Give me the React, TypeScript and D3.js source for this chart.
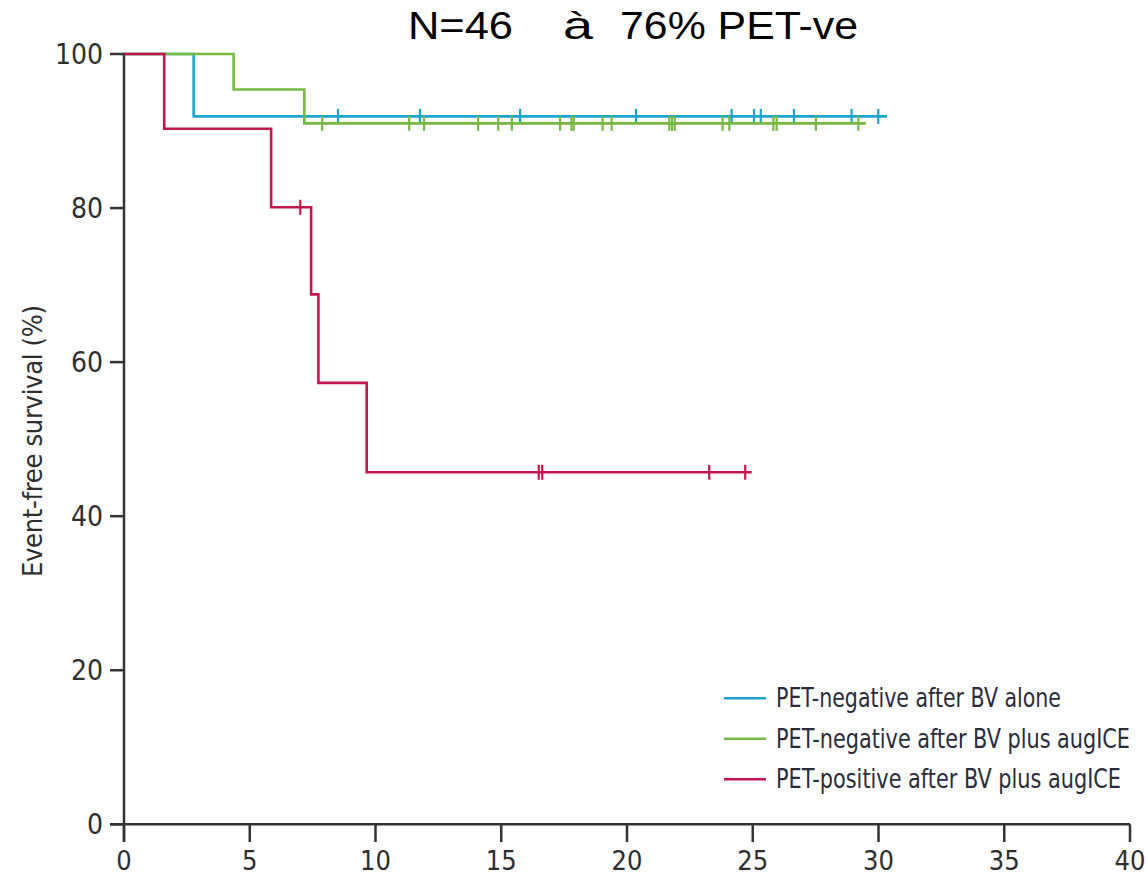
import React from 'react';
import * as d3 from 'd3';

// Kaplan-Meier steps (months, %)
const blueTimes = [0, 2.77];
const blueSurv = [100, 91.9];
const blueEnd = 30.34;
const blueCensor = [8.51, 11.77, 15.75, 20.36, 24.16, 25.05, 25.32, 26.64, 28.93, 29.99];

const greenTimes = [0, 4.36, 7.17];
const greenSurv = [100, 95.4, 91.0];
const greenEnd = 29.5;
const greenCensor = [7.88, 11.34, 11.93, 14.08, 14.88, 15.42, 17.34, 17.79, 17.88, 19.03, 19.39, 21.68, 21.79, 21.9, 23.8, 24.07, 25.82, 25.95, 27.51, 29.2];

const redTimes = [0, 1.6, 5.85, 7.44, 7.73, 9.65];
const redSurv = [100, 90.3, 80.1, 68.8, 57.3, 45.7];
const redEnd = 24.96;
const redCensor = [7.01, 16.49, 16.63, 23.27, 24.7];

const xTicks = [0, 5, 10, 15, 20, 25, 30, 35, 40];
const yTicks = [0, 20, 40, 60, 80, 100];

const legendLabels = [
  'PET-negative after BV alone',
  'PET-negative after BV plus augICE',
  'PET-positive after BV plus augICE',
];

const BLUE = '#1ba3d3';
const GREEN = '#76b943';
const RED = '#c3174c';
const AXIS = '#333333';
const FONT = "'Liberation Sans Narrow', 'DejaVu Sans Condensed', 'Liberation Sans', sans-serif";

const x = d3.scaleLinear().domain([0, 40]).range([124, 1130]);
const y = d3.scaleLinear().domain([0, 100]).range([824.3, 54]);

const stepLine = d3
  .line<[number, number]>()
  .x((d) => x(d[0]))
  .y((d) => y(d[1]))
  .curve(d3.curveStepAfter);

const survAt = (times: number[], surv: number[], t: number) => {
  let s = surv[0];
  times.forEach((tt, i) => {
    if (tt <= t) s = surv[i];
  });
  return s;
};

const series = [
  { times: blueTimes, surv: blueSurv, end: blueEnd, censor: blueCensor, color: BLUE },
  { times: greenTimes, surv: greenSurv, end: greenEnd, censor: greenCensor, color: GREEN },
  { times: redTimes, surv: redSurv, end: redEnd, censor: redCensor, color: RED },
];

const legendWidths = [285, 354, 345];

const App = () => {
  return (
    <svg
      width={1148}
      height={877}
      style={{ position: 'absolute', left: 0, top: 0, background: '#fff' }}
    >
      {/* title */}
      <g fontFamily="'Liberation Sans', Arial, sans-serif" fontSize={38.5} fill="#000">
        <text x={408} y={39} textLength={105} lengthAdjust="spacingAndGlyphs">N=46</text>
        <text x={563} y={39} textLength={30} lengthAdjust="spacingAndGlyphs" fontWeight={300}>à</text>
        <text x={620} y={39} textLength={238} lengthAdjust="spacingAndGlyphs">76% PET-ve</text>
      </g>

      {/* axes */}
      <g stroke={AXIS} strokeWidth={2.5} fill="none">
        <line x1={x(0)} x2={x(0)} y1={y(100)} y2={842} />
        <line x1={110} x2={x(40)} y1={y(0)} y2={y(0)} />
        {yTicks.map((t) => (
          <line key={'yt' + t} x1={110} x2={x(0)} y1={y(t)} y2={y(t)} />
        ))}
        {xTicks.map((t) => (
          <line key={'xt' + t} x1={x(t)} x2={x(t)} y1={y(0)} y2={842} />
        ))}
      </g>
      <g fontFamily={FONT} fontSize={28} fill="#2e2e2e">
        {yTicks.map((t) => (
          <text key={'yl' + t} x={103} y={y(t)} dy="0.36em" textAnchor="end">
            {t}
          </text>
        ))}
        {xTicks.map((t) => (
          <text key={'xl' + t} x={x(t)} y={870} fontSize={27} textAnchor="middle">
            {t}
          </text>
        ))}
        <text
          transform="translate(42,441) rotate(-90)"
          textAnchor="middle"
          fontSize={27}
          textLength={272}
          lengthAdjust="spacing"
        >
          Event-free survival (%)
        </text>
      </g>

      {/* survival curves */}
      {series.map((s, i) => {
        const pts: [number, number][] = s.times.map((t, j) => [t, s.surv[j]] as [number, number]);
        pts.push([s.end, s.surv[s.surv.length - 1]]);
        return (
          <g key={'s' + i}>
            <path d={stepLine(pts) || ''} fill="none" stroke={s.color} strokeWidth={2.6} />
            {s.censor.map((c, k) => {
              const v = y(survAt(s.times, s.surv, c));
              return (
                <line
                  key={k}
                  x1={x(c)}
                  x2={x(c)}
                  y1={v - 7.5}
                  y2={v + 7.5}
                  stroke={s.color}
                  strokeWidth={2.2}
                />
              );
            })}
          </g>
        );
      })}

      {/* legend */}
      <g fontFamily={FONT} fontSize={27} fill="#2b2b3a">
        {legendLabels.map((lbl, i) => {
          const ly = 698.3 + i * 40.5;
          return (
            <g key={lbl}>
              <line x1={724} x2={766} y1={ly} y2={ly} stroke={series[i].color} strokeWidth={2.5} />
              <text x={776} y={ly + 9} textLength={legendWidths[i]} lengthAdjust="spacingAndGlyphs">
                {lbl}
              </text>
            </g>
          );
        })}
      </g>
    </svg>
  );
};

export default App;
